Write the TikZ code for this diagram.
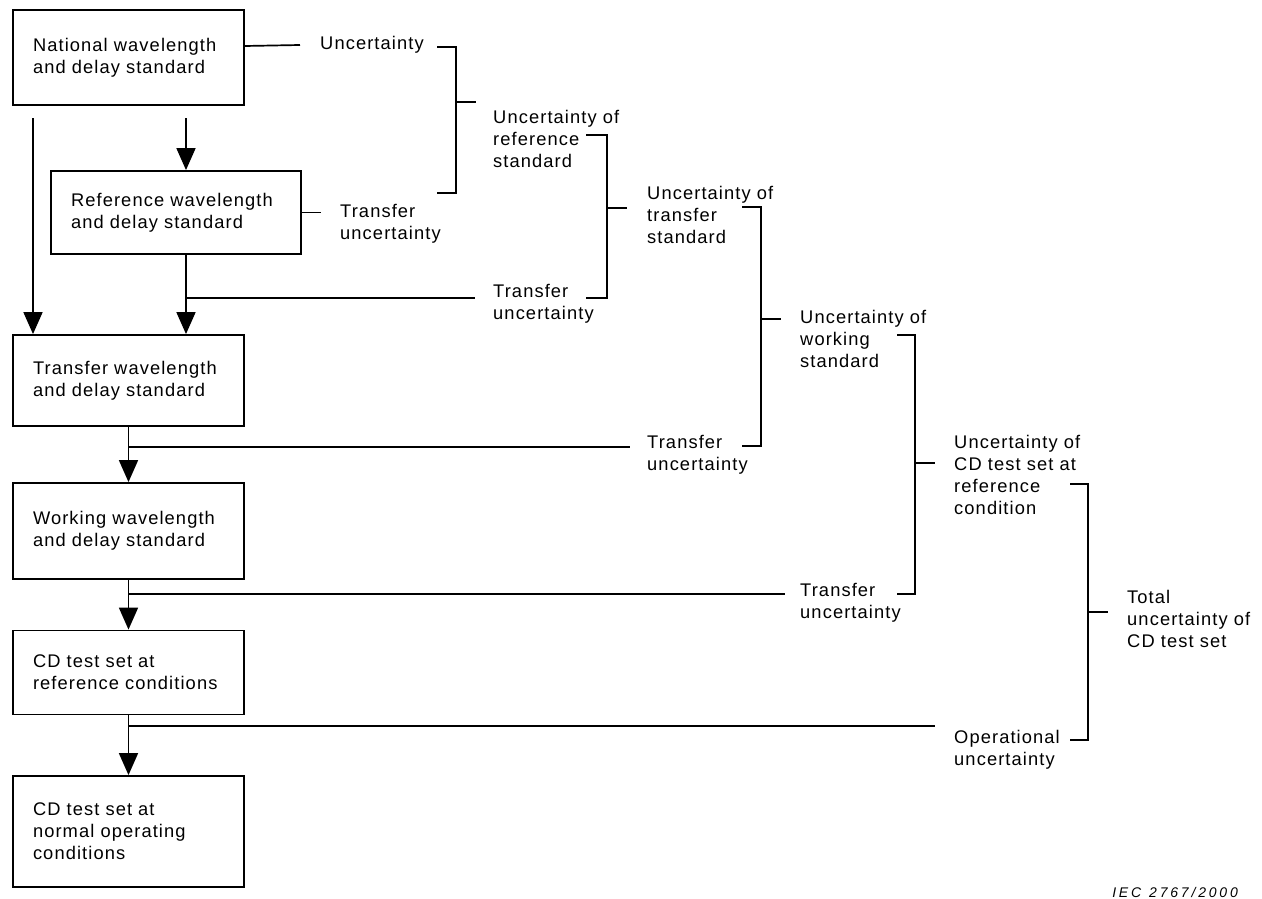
\documentclass[tikz,border=0pt]{standalone}
\usepackage{fontspec}
\setmainfont{Liberation Sans}[LetterSpace=6]
\usetikzlibrary{arrows.meta}

\begin{document}
\begin{tikzpicture}[x=1pt, y=-1pt,
  every node/.style={font=\fontsize{18.3}{22}\selectfont},
  stage/.style={draw, line width=1.8pt, align=left, inner xsep=20pt, inner ysep=0pt, minimum height=#1},
  note/.style={anchor=west, align=left, inner sep=0pt},
  link/.style={line width=1.7pt},
  flow/.style={link, -{Triangle[length=22pt, width=19pt]}},
]
\useasboundingbox (0,0) rectangle (1262,899);

\node[stage=95pt, text width=191pt] (national) at (128.5,57.5) {National wavelength\\and delay standard};
\node[stage=83pt, text width=210pt] (reference) at (176,212.5) {Reference wavelength\\and delay standard};
\node[stage=91pt, text width=191pt] (transfer) at (128.5,380.5) {Transfer wavelength\\and delay standard};
\node[stage=96pt, text width=191pt] (working) at (128.5,531) {Working wavelength\\and delay standard};
\node[stage=84pt, text width=191pt] (cdref) at (128.5,672.5) {CD test set at\\reference conditions};
\node[stage=111pt, text width=191pt] (cdnorm) at (128.5,831.5) {CD test set at\\normal operating\\conditions};

\node[note] (unc) at (320,45) {Uncertainty};
\node[note] (tunc1) at (340,224) {Transfer\\uncertainty};
\node[note] (tunc2) at (493,303.5) {Transfer\\uncertainty};
\node[note] (tunc3) at (647,455) {Transfer\\uncertainty};
\node[note] (tunc4) at (800,603) {Transfer\\uncertainty};
\node[note] (opunc) at (954,750) {Operational\\uncertainty};
\node[note] (refunc) at (493,138.5) {Uncertainty of\\reference\\standard};
\node[note] (trunc) at (647,214.5) {Uncertainty of\\transfer\\standard};
\node[note] (wkunc) at (800,338.5) {Uncertainty of\\working\\standard};
\node[note] (cdunc) at (954,475) {Uncertainty of\\CD test set at\\reference\\condition};
\node[note] (total) at (1127,618.5) {Total\\uncertainty of\\CD test set};
\node[anchor=east, inner sep=0pt, font=\fontsize{14}{16}\selectfont\itshape\addfontfeature{LetterSpace=20}] (figno) at (1238,892) {IEC\hspace{8pt}2767/2000};

\coordinate (down1) at (33,118);
\coordinate (down2) at (186,118);
\coordinate (ref out) at (186,254);
\coordinate (tap1) at (186,298);
\coordinate (tap2) at (128,447);
\coordinate (tap3) at (128,594);
\coordinate (tap4) at (128,726);

\draw[flow] (down1) -- (down1 |- transfer.north);
\draw[flow] (down2) -- (down2 |- reference.north);
\draw[flow] (ref out) -- (ref out |- transfer.north);
\draw[flow] (transfer) -- (working);
\draw[flow] (working) -- (cdref);
\draw[flow] (cdref) -- (cdnorm);

\draw[link] (national.east |- 0,46) -- (300,45);
\draw[link] (reference.east) -- ++(19,0);
\draw[link] (tap1) -- ++(289,0);
\draw[link] (tap2) -- ++(502,0);
\draw[link] (tap3) -- ++(657,0);
\draw[link] (tap4) -- ++(807,0);

\foreach \xa/\xb/\ya/\yb/\ym in {437/456/47/193/102, 586/607/135/298/208, 742/761/207/446/319, 897/915/335/594/463, 1070/1088/484/740/612} {
  \draw[link] (\xa,\ya) -| (\xb,\yb) -- (\xa,\yb);
  \draw[link] (\xb,\ym) -- ++(20,0);
}
\end{tikzpicture}
\end{document}
